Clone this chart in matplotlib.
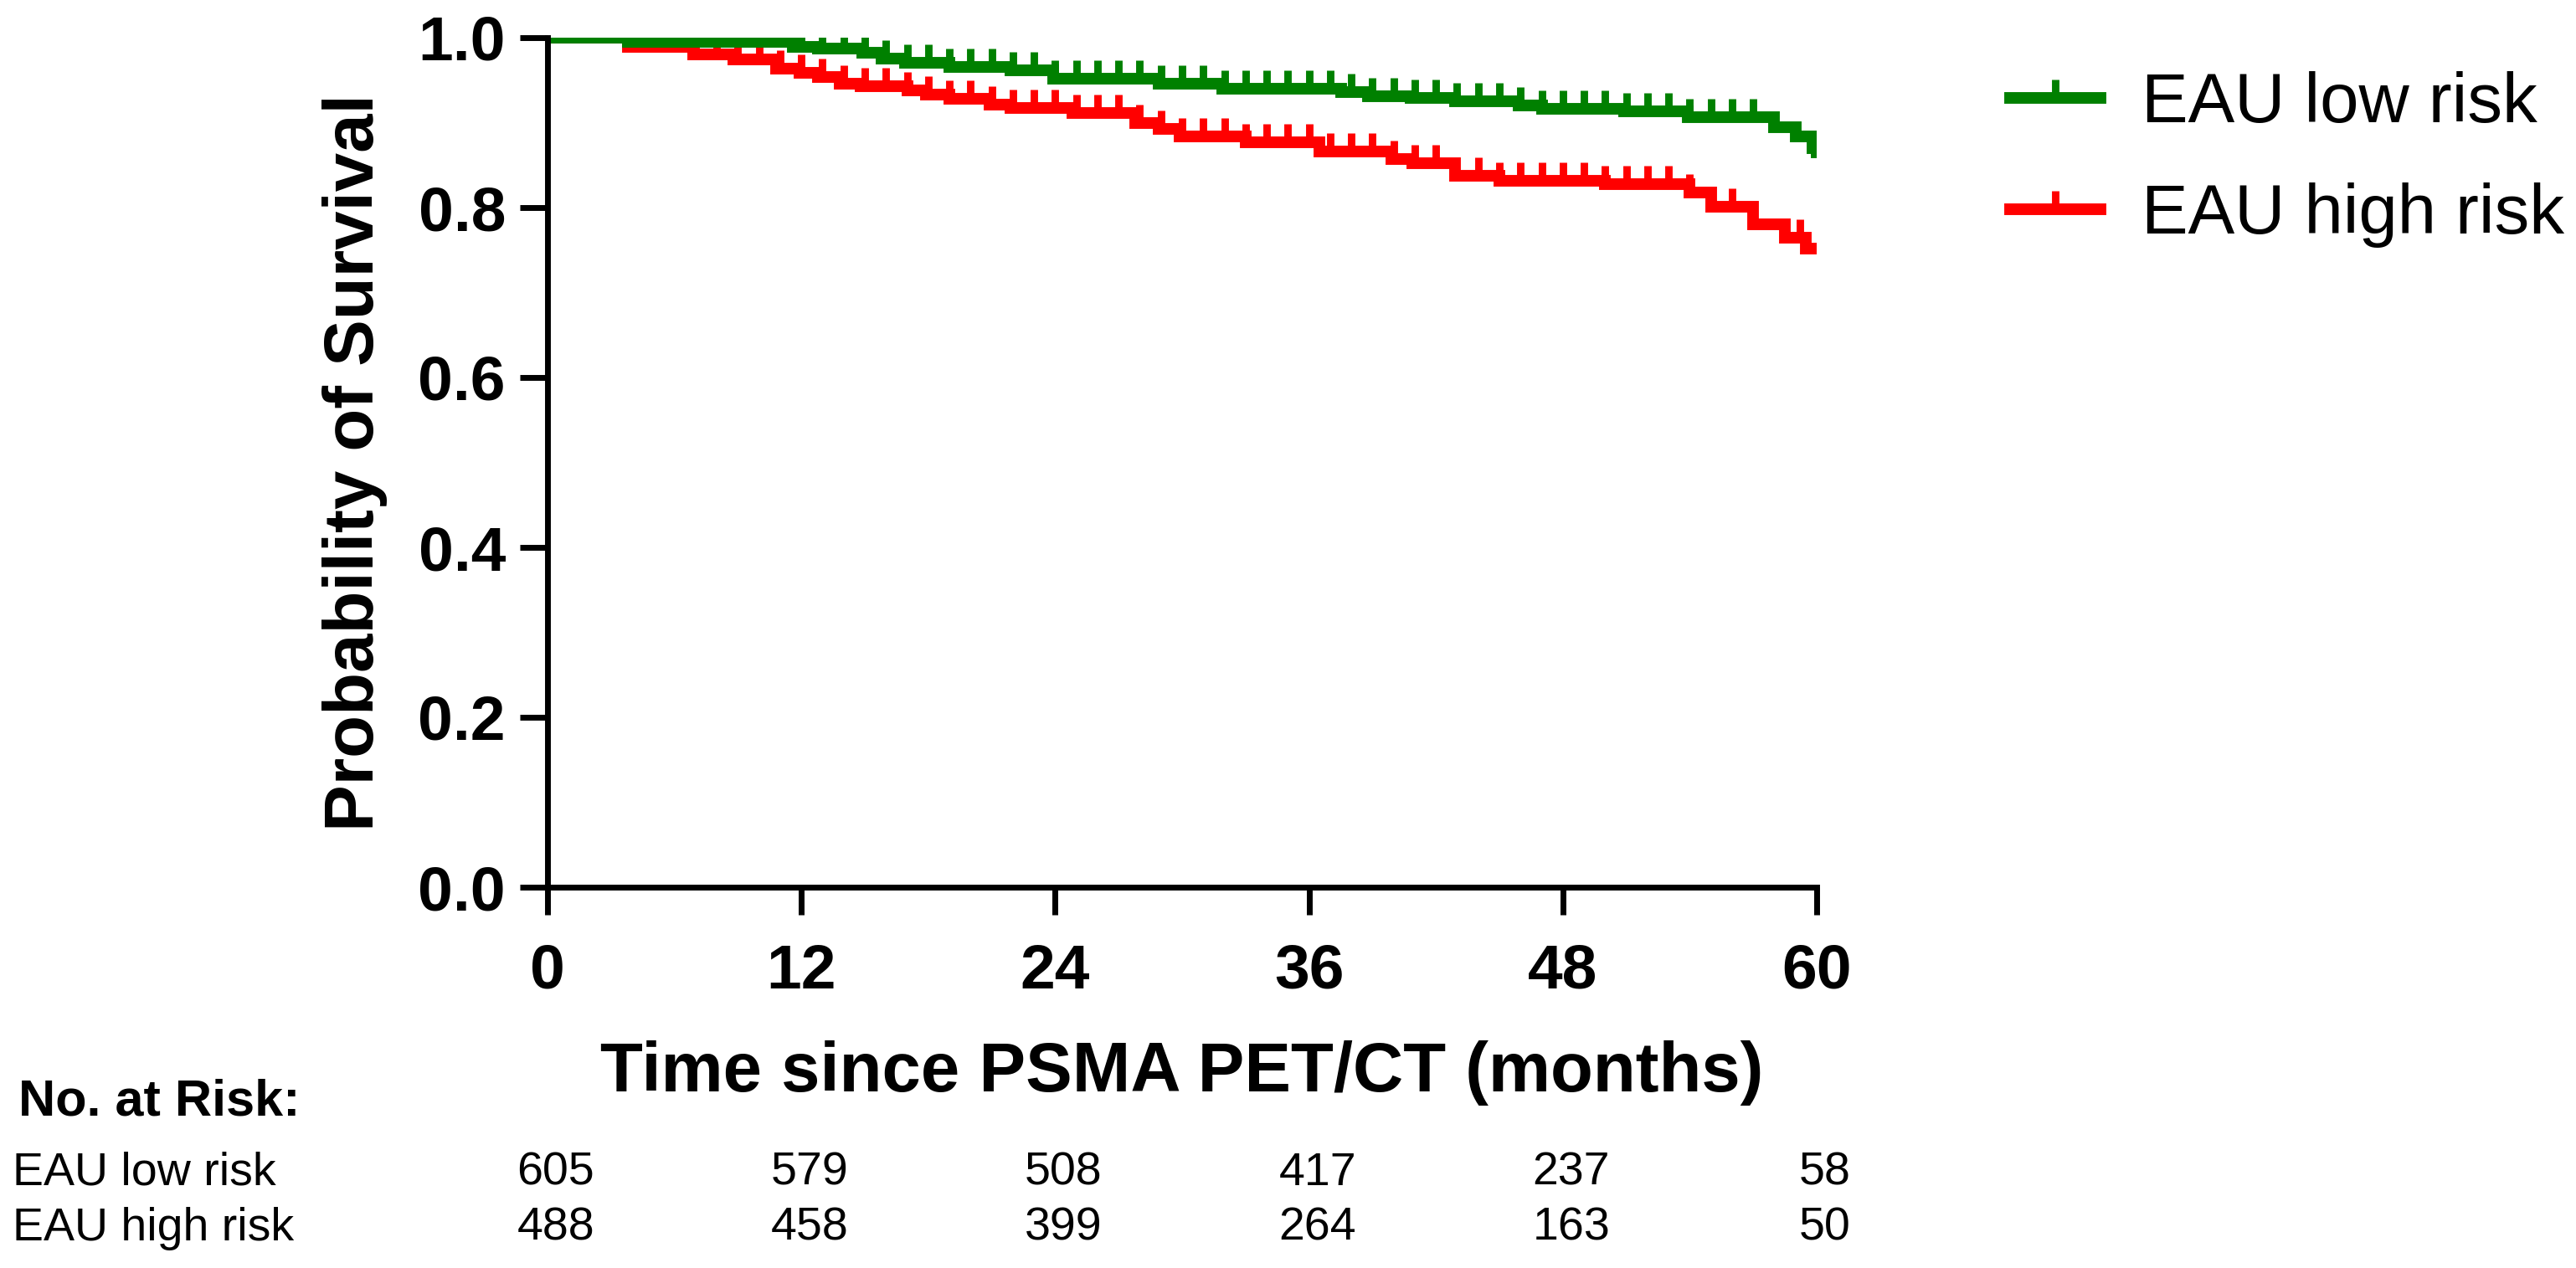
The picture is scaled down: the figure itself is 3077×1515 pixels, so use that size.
import numpy as np
import matplotlib
matplotlib.use("Agg")
import matplotlib.pyplot as plt
from matplotlib.lines import Line2D

plt.rcParams['font.family'] = ['Liberation Sans', 'DejaVu Sans']

# Kaplan-Meier steps (months, survival)
low_t = [0, 3.8, 11.6, 12.8, 14.9, 15.8, 16.9, 19.0, 21.9, 23.9, 28.9, 31.9,
         37.5, 38.8, 40.8, 42.9, 45.9, 47.0, 50.9, 53.9, 58.0, 59.0, 59.8, 60]
low_s = [1.0, 0.995, 0.989, 0.987, 0.982, 0.975, 0.970, 0.966, 0.962, 0.952, 0.946, 0.940,
         0.936, 0.931, 0.929, 0.925, 0.920, 0.916, 0.913, 0.906, 0.895, 0.884, 0.870, 0.865]

high_t = [0, 3.8, 6.9, 8.8, 10.8, 11.9, 12.8, 13.8, 14.8, 17.0, 17.9, 19.0, 20.9, 21.9,
          24.8, 27.8, 28.9, 29.9, 33.0, 36.5, 39.9, 40.9, 42.9, 45.0, 50.0, 54.0, 55.0,
          57.0, 58.5, 59.5, 60]
high_s = [1.0, 0.989, 0.980, 0.974, 0.964, 0.959, 0.954, 0.946, 0.943, 0.938, 0.933, 0.928,
          0.921, 0.917, 0.911, 0.900, 0.893, 0.884, 0.877, 0.866, 0.857, 0.852, 0.837, 0.832,
          0.828, 0.818, 0.801, 0.780, 0.765, 0.752, 0.752]

# censored observations (tick marks)
low_cens = [0.3, 1.1, 1.6, 4, 5, 6, 7, 8, 9, 10, 11, 12, 13, 14, 15, 16, 17, 18, 19, 20,
            21, 22, 23, 24, 25, 26, 27, 28, 29, 30, 31, 32, 33, 34, 35, 36, 37, 38, 39, 40,
            41, 42, 43, 44, 45, 46, 47, 48, 49, 50, 51, 52, 53, 54, 55, 56, 57]
high_cens = [2.1, 4, 5, 6, 7, 8, 9, 10, 11, 12, 13, 14, 15, 16, 17, 18, 19, 20, 21, 22,
             23, 24, 25, 26, 27, 28, 29, 30, 31, 32, 33, 34, 35, 36, 37, 38, 39, 40, 41,
             42, 44, 45, 46, 47, 48, 49, 50, 51, 52, 53, 54, 56, 59.2]

groups = ['EAU low risk', 'EAU high risk']
risk_times = [0, 12, 24, 36, 48, 60]
risk_low = [605, 579, 508, 417, 237, 58]
risk_high = [488, 458, 399, 264, 163, 50]

W, H = 3077, 1515
fig = plt.figure(figsize=(W / 200, H / 200), dpi=200)
ax = fig.add_axes([654 / W, 1 - 1060 / H, (2170 - 654) / W, 1015 / H])


def surv_at(times, t, s):
    idx = np.searchsorted(t, times, side='right') - 1
    return np.array(s)[idx]


LW, MS, MEW = 5.0, 8, 3.2
series = [(high_t, high_s, high_cens, 'red'), (low_t, low_s, low_cens, 'green')]
for t, s, cens, col in series:
    ax.step(t, s, where='post', color=col, lw=LW, solid_joinstyle='miter')
    ax.plot(cens, surv_at(cens, t, s), ls='none', marker=2, ms=MS, mew=MEW, color=col)

ax.set_xlim(0, 60)
ax.set_ylim(0, 1.0)
ax.set_xticks(risk_times)
ax.set_yticks([0.0, 0.2, 0.4, 0.6, 0.8, 1.0])
ax.set_yticklabels(['0.0', '0.2', '0.4', '0.6', '0.8', '1.0'])
for side in ['top', 'right']:
    ax.spines[side].set_visible(False)
for side in ['left', 'bottom']:
    ax.spines[side].set_linewidth(2.5)
ax.tick_params(width=2.5, length=12, labelsize=27, pad=6)
ax.tick_params(axis='x', pad=12)
for lab in ax.get_xticklabels() + ax.get_yticklabels():
    lab.set_fontweight('bold')

ax.set_ylabel('Probability of Survival', fontsize=30, fontweight='bold')
ax.yaxis.set_label_coords(-0.126, 0.5)
ax.set_xlabel('Time since PSMA PET/CT (months)', fontsize=30, fontweight='bold')
ax.xaxis.set_label_coords(0.5, -0.18)

handles = [Line2D([], [], color='green', lw=LW, marker=2, ms=MS, mew=MEW),
           Line2D([], [], color='red', lw=LW, marker=2, ms=MS, mew=MEW)]
fig.legend(handles, groups, loc='upper left', bbox_to_anchor=(2326 / W, 1 - 10 / H),
           frameon=False, fontsize=30, numpoints=1, handlelength=1.3,
           handletextpad=0.58, labelspacing=0.66)

# number at risk table
fig.text(22 / W, 1 - 1317 / H, 'No. at Risk:', fontsize=22, fontweight='bold', va='center')
for row, (name, vals) in enumerate(zip(groups, [risk_low, risk_high])):
    y = 1 - (1402 + 66 * row) / H
    fig.text(15 / W, y, name, fontsize=20, va='center')
    for tm, v in zip(risk_times, vals):
        xf = (654 + tm * (2170 - 654) / 60 + 10) / W
        fig.text(xf, y, str(v), fontsize=20, va='center', ha='center')

fig.savefig('out.png', dpi=200)
